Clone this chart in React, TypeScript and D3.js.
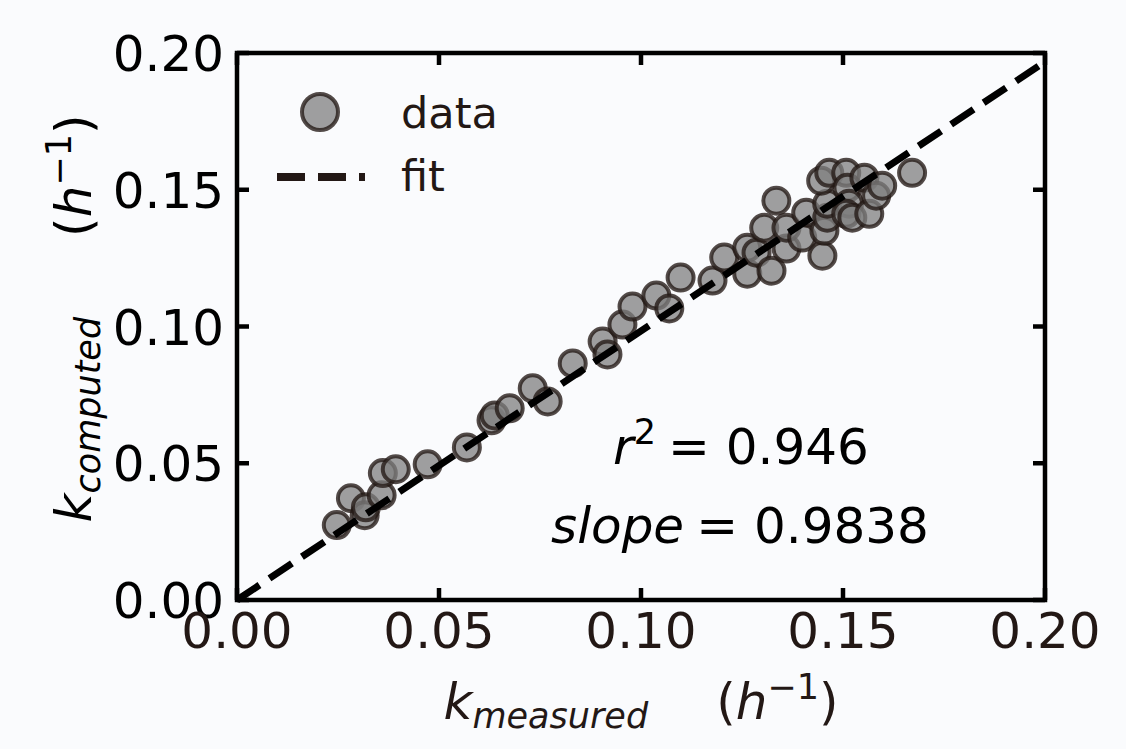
import React from "react";
import * as d3 from "d3";

// Measured vs computed rate constants (h^-1)
const kMeasured = [
  0.0247, 0.0282, 0.0316, 0.0319, 0.0358, 0.0361, 0.0393, 0.0472, 0.0569, 0.063,
  0.0638, 0.0675, 0.0732, 0.0769, 0.0831, 0.0905, 0.0917, 0.0954, 0.0979, 0.1038,
  0.107, 0.1098, 0.1177, 0.1206, 0.1263, 0.1263, 0.1286, 0.1305, 0.1323, 0.1335,
  0.136, 0.136, 0.1399, 0.1409, 0.1449, 0.1454, 0.1461, 0.1461, 0.1446, 0.1466,
  0.1508, 0.1511, 0.1515, 0.1508, 0.1523, 0.1553, 0.1565, 0.1582, 0.1597, 0.1671,
];
const kComputed = [
  0.0274, 0.0372, 0.031, 0.0339, 0.0383, 0.0464, 0.0478, 0.0496, 0.0558, 0.0657,
  0.0675, 0.0701, 0.0774, 0.0726, 0.0865, 0.0945, 0.0898, 0.1007, 0.1073, 0.1113,
  0.1066, 0.1179, 0.1168, 0.1252, 0.1193, 0.1288, 0.127, 0.1361, 0.1204, 0.146,
  0.1285, 0.1361, 0.1325, 0.1416, 0.1259, 0.135, 0.1398, 0.1449, 0.1533, 0.1562,
  0.1562, 0.1507, 0.1449, 0.1412, 0.1398, 0.1544, 0.1412, 0.1478, 0.1515, 0.1562,
];
const tickValues = [0, 0.05, 0.1, 0.15, 0.2];
const fitSlope = 0.9838;
const rSquared = 0.946;
const legendLabels = ["data", "fit"];

const W = 1126;
const H = 749;
const M = { left: 237, right: 81, top: 53, bottom: 149 };
const FONT = "DejaVu Sans, sans-serif";
const INK = "#231815";
const TICK = 12;

export default function App() {
  const x = d3.scaleLinear().domain([0, 0.2]).range([M.left, W - M.right]);
  const y = d3.scaleLinear().domain([0, 0.2]).range([H - M.bottom, M.top]);
  const fmt = d3.format(".2f");
  const fitLine = d3
    .line<number>()
    .x((d) => x(d))
    .y((d) => y(fitSlope * d));
  const points = kMeasured.map((m, i) => ({ m, c: kComputed[i] }));
  const x0 = x(0), x1 = x(0.2), y0 = y(0), y1 = y(0.2);
  const cx = (x0 + x1) / 2;
  const cy = (y0 + y1) / 2;

  return (
    <svg
      width={W}
      height={H}
      style={{ position: "absolute", left: 0, top: 0, display: "block" }}
      fontFamily={FONT}
    >
      <rect x={0} y={0} width={W} height={H} fill="#fafbfd" />

      {/* scatter */}
      <g>
        {points.map((p, i) => (
          <circle
            key={i}
            cx={x(p.m)}
            cy={y(p.c)}
            r={13}
            fill="#7f7f7f"
            fillOpacity={0.75}
            stroke={INK}
            strokeOpacity={0.78}
            strokeWidth={4}
          />
        ))}
      </g>

      {/* regression line */}
      <path
        d={fitLine([0, 0.2]) || ""}
        fill="none"
        stroke="#000"
        strokeWidth={7}
        strokeDasharray="27,12"
      />

      {/* ticks on all four sides, pointing inward */}
      <g stroke="#000" strokeWidth={4.5}>
        {tickValues.map((t) => (
          <g key={"t" + t}>
            <line x1={x(t)} x2={x(t)} y1={y0} y2={y0 - TICK} />
            <line x1={x(t)} x2={x(t)} y1={y1} y2={y1 + TICK} />
            <line x1={x0} x2={x0 + TICK} y1={y(t)} y2={y(t)} />
            <line x1={x1} x2={x1 - TICK} y1={y(t)} y2={y(t)} />
          </g>
        ))}
      </g>

      {/* frame */}
      <rect
        x={x0}
        y={y1}
        width={x1 - x0}
        height={y0 - y1}
        fill="none"
        stroke="#000"
        strokeWidth={4.5}
      />

      {/* y tick labels */}
      <g fontSize={50} fill="#000" textAnchor="end">
        {tickValues.map((t) => (
          <text key={"yl" + t} x={x0 - 13} y={y(t) + 18}>
            {fmt(t)}
          </text>
        ))}
      </g>

      {/* x tick labels */}
      <g fontSize={50} fill={INK} textAnchor="middle">
        {tickValues.map((t) => (
          <text key={"xl" + t} x={x(t)} y={y0 + 48}>
            {fmt(t)}
          </text>
        ))}
      </g>

      {/* x axis title */}
      <text x={cx} y={719} fontSize={50} fill={INK} textAnchor="middle">
        <tspan fontStyle="italic">k</tspan>
        <tspan fontStyle="italic" fontSize={35} dy={9}>
          measured
        </tspan>
        <tspan dx={68} dy={-9}>(</tspan>
        <tspan fontStyle="italic">h</tspan>
        <tspan fontSize={35} dy={-20}>
          −1
        </tspan>
        <tspan dy={20}>)</tspan>
      </text>

      {/* y axis title */}
      <text
        transform={`translate(91,${cy - 8}) rotate(-90)`}
        fontSize={50}
        fill="#000"
        textAnchor="middle"
      >
        <tspan fontStyle="italic">k</tspan>
        <tspan fontStyle="italic" fontSize={35} dy={9}>
          computed
        </tspan>
        <tspan dx={80} dy={-9}>(</tspan>
        <tspan fontStyle="italic">h</tspan>
        <tspan fontSize={35} dy={-20}>
          −1
        </tspan>
        <tspan dy={20}>)</tspan>
      </text>

      {/* statistics */}
      <g fontSize={50} fill="#000" textAnchor="middle">
        <text x={741} y={464}>
          <tspan fontStyle="italic">r</tspan>
          <tspan fontSize={35} dy={-20}>
            2
          </tspan>
          <tspan dy={20} dx={12}>
            = {rSquared.toFixed(3)}
          </tspan>
        </text>
        <text x={740} y={543}>
          <tspan fontStyle="italic">slope</tspan>
          <tspan dx={12}>= {fitSlope.toFixed(4)}</tspan>
        </text>
      </g>

      {/* legend */}
      <g>
        <circle
          cx={320}
          cy={112}
          r={18}
          fill="#7f7f7f"
          fillOpacity={0.75}
          stroke={INK}
          strokeOpacity={0.78}
          strokeWidth={4}
        />
        <line
          x1={277}
          x2={365}
          y1={177}
          y2={177}
          stroke={INK}
          strokeWidth={8}
          strokeDasharray="28,13"
        />
        <text x={401} y={128} fontSize={43} fill={INK}>
          {legendLabels[0]}
        </text>
        <text x={401} y={191} fontSize={43} fill={INK}>
          {legendLabels[1]}
        </text>
      </g>
    </svg>
  );
}
